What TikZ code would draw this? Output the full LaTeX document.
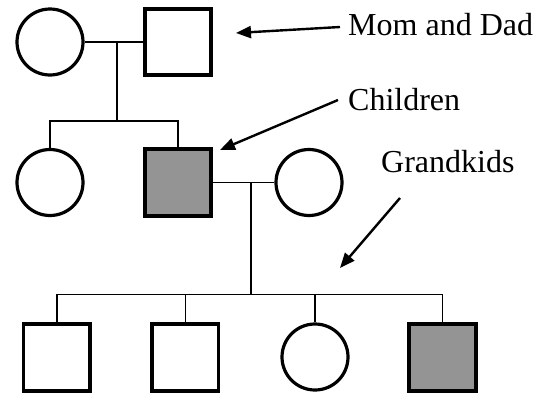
\documentclass[tikz,border=0pt]{standalone}
\usepackage{fontspec}
\setmainfont{Liberation Serif}
\usetikzlibrary{arrows.meta}
\definecolor{affected}{RGB}{148,148,148}
\begin{document}
\begin{tikzpicture}[x=1pt,y=-1pt,
  female/.style={circle,draw,line width=3.2pt,minimum size=66pt,inner sep=0pt,fill=white},
  male/.style={rectangle,draw,line width=3.6pt,minimum size=66.5pt,inner sep=0pt,fill=white},
  shaded/.style={fill=affected},
  link/.style={line width=1.8pt},
  pointer/.style={line width=2.4pt,-{Triangle[length=15pt,width=12pt]}},
  caption/.style={font=\fontsize{32}{36}\selectfont,anchor=base west,inner sep=0pt}]
\useasboundingbox (0,0) rectangle (550,394);

% first generation
\node[female] (mom) at (50,42) {};
\node[male]   (dad) at (178,42) {};

% second generation
\node[female] (daughter) at (50,182.5) {};
\node[male,shaded] (son) at (178,182.5) {};
\node[female] (wife) at (309,182.5) {};

% third generation
\node[male] (gk1) at (56.7,357.5) {};
\node[male] (gk2) at (185.4,357.5) {};
\node[female,minimum size=66pt] (gk3) at (315,357) {};
\node[male,shaded] (gk4) at (442.5,357.5) {};

% couple and sibship lines
\draw[link] (mom.east) -- (dad.west);
\coordinate (m1) at (117,42);
\coordinate (s1) at (117,121);
\draw[link] (m1) -- (s1);
\draw[link] (daughter.north) |- (s1) -| (son.north);

\draw[link] (son.east) -- (wife.west);
\coordinate (m2) at (251,182.5);
\coordinate (s2) at (251,294.5);
\draw[link] (m2) -- (s2);
\draw[link] (gk1.north) |- (s2) -| (gk4.north);
\draw[link] (gk2.north) -- (gk2.north |- s2);
\draw[link] (gk3.north) -- (gk3.north |- s2);

% labels with pointers
\node[caption] (lbl1) at (348,35) {Mom and Dad};
\node[caption] (lbl2) at (348,110) {Children};
\node[caption] (lbl3) at (381,172) {Grandkids};

\coordinate (t1) at (340,27);
\coordinate (h1) at (236,33);
\coordinate (t2) at (338,100);
\coordinate (h2) at (220,150);
\coordinate (t3) at (400,198);
\coordinate (h3) at (340,268);
\draw[pointer] (t1) -- (h1);
\draw[pointer] (t2) -- (h2);
\draw[pointer] (t3) -- (h3);
\end{tikzpicture}
\end{document}
